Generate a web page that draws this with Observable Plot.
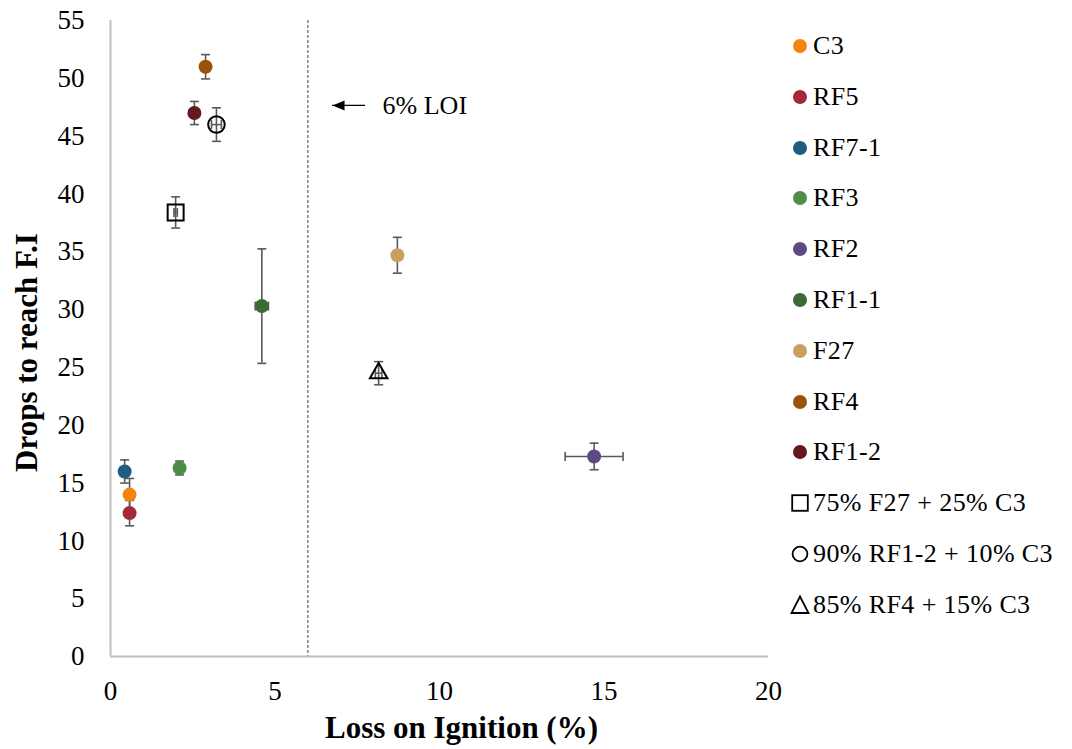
<!DOCTYPE html>
<html><head><meta charset="utf-8">
<script src="https://cdn.jsdelivr.net/npm/d3@7"></script>
<script src="https://cdn.jsdelivr.net/npm/@observablehq/plot@0.6"></script>
<style>
html,body{margin:0;padding:0;background:#fff;}
#wrap{position:relative;width:1072px;height:749px;overflow:hidden;background:#fff;}
#legend{position:absolute;left:789px;top:20.6px;font-family:"Liberation Serif","Times New Roman",serif;font-size:26px;letter-spacing:0.4px;color:#000;}
.item{height:50.8px;display:flex;align-items:center;white-space:nowrap;}
.item svg{width:22px;height:22px;margin-right:2px;flex:none;}
</style></head><body>
<div id="wrap"><div id="chart"></div><div id="legend"></div></div>
<script>
// ---- data ----
const names = ["C3","RF5","RF7-1","RF3","RF2","RF1-1","F27","RF4","RF1-2","75% F27 + 25% C3","90% RF1-2 + 10% C3","85% RF4 + 15% C3"];
const loi = [0.58, 0.58, 0.43, 2.1, 14.7, 4.6, 8.72, 2.89, 2.55, 1.98, 3.22, 8.15];
const drops = [14.0, 12.4, 16.0, 16.3, 17.3, 30.3, 34.7, 51.0, 47.0, 38.4, 46.0, 24.5];
const dropsErr = [1.4, 1.1, 1.0, 0.6, 1.15, 4.95, 1.55, 1.05, 1.0, 1.35, 1.45, 1.0];
const loiErr = [0, 0, 0, 0, 0.88, 0.2, 0, 0, 0, 0.05, 0.15, 0.1];
const filledColors = ["#F3840F","#A4283A","#1F5C82","#4E8D45","#5E4A82","#3A6B35","#C9A060","#9A5207","#64181F"];
const hollowSymbols = ["square","circle","triangle"];
const xTicks = [0,5,10,15,20];
const yTicks = [0,5,10,15,20,25,30,35,40,45,50,55];
const loiLimit = [6];
const annotation = [{tip: 6.75, tail: 7.75, y: 47.66, textX: 8.27, label: "6% LOI"}];
const xTitle = "Loss on Ignition (%)";
const yTitle = "Drops to reach F.I";

// ---- build ----
const rows = names.map((name, i) => ({name, loi: loi[i], drops: drops[i], dErr: dropsErr[i], lErr: loiErr[i]}));
const filled = rows.slice(0, 9);
const hollow = rows.slice(9);
const xErrRows = rows.filter(d => d.lErr > 0);
const FONT = '"Liberation Serif","Times New Roman",serif';
const barColor = "#595959";

const capH = {draw(ctx){ ctx.moveTo(-4.5, 0); ctx.lineTo(4.5, 0); }};
const capV = {draw(ctx){ ctx.moveTo(0, -4.5); ctx.lineTo(0, 4.5); }};
const headLeft = {draw(ctx){ ctx.moveTo(0, 0); ctx.lineTo(12, -5); ctx.lineTo(12, 5); ctx.closePath(); }};
const hollowR = {square: 9, circle: 8.3, triangle: 6.5};

const marks = [
  Plot.ruleX(loiLimit, {stroke: "#404040", strokeWidth: 1, strokeDasharray: "3,2"}),
  Plot.ruleX([0], {stroke: "#bfbfbf", strokeWidth: 2}),
  Plot.ruleY([0], {stroke: "#bfbfbf", strokeWidth: 2}),
  Plot.axisX({ticks: xTicks, tickSize: 0, tickPadding: 24, fontSize: 27, fontFamily: FONT, label: null}),
  Plot.axisY({ticks: yTicks, tickSize: 0, tickPadding: 26, fontSize: 27, fontFamily: FONT, label: null}),
  // vertical error bars
  Plot.ruleX(rows, {x: "loi", y1: d => d.drops - d.dErr, y2: d => d.drops + d.dErr, stroke: barColor, strokeWidth: 1.6}),
  Plot.dot(rows, {x: "loi", y: d => d.drops - d.dErr, symbol: capH, r: 4, stroke: barColor, strokeWidth: 1.6, fill: "none"}),
  Plot.dot(rows, {x: "loi", y: d => d.drops + d.dErr, symbol: capH, r: 4, stroke: barColor, strokeWidth: 1.6, fill: "none"}),
  // horizontal error bars
  Plot.ruleY(xErrRows, {y: "drops", x1: d => d.loi - d.lErr, x2: d => d.loi + d.lErr, stroke: barColor, strokeWidth: 1.6}),
  Plot.dot(xErrRows, {y: "drops", x: d => d.loi - d.lErr, symbol: capV, r: 4, stroke: barColor, strokeWidth: 1.6, fill: "none"}),
  Plot.dot(xErrRows, {y: "drops", x: d => d.loi + d.lErr, symbol: capV, r: 4, stroke: barColor, strokeWidth: 1.6, fill: "none"}),
  // filled markers
  Plot.dot(filled, {x: "loi", y: "drops", fill: "name", r: 7, stroke: "none"}),
  // hollow markers
  ...hollow.map((d, i) => Plot.dot([d], {x: "loi", y: "drops", symbol: hollowSymbols[i], r: hollowR[hollowSymbols[i]], stroke: "#000", strokeWidth: 2, fill: "none"})),
  // annotation
  Plot.ruleY(annotation, {y: "y", x1: "tip", x2: "tail", stroke: "#000", strokeWidth: 1.2}),
  Plot.dot(annotation, {x: "tip", y: "y", symbol: headLeft, r: 5, fill: "#000", stroke: "none"}),
  Plot.text(annotation, {x: "textX", y: "y", text: "label", textAnchor: "start", fontSize: 26, fontFamily: FONT, fill: "#000", letterSpacing: 0.5}),
  // titles
  Plot.text([xTitle], {frameAnchor: "bottom", dy: 72, dx: 22, textAnchor: "middle", fontSize: 31, fontWeight: "bold", fontFamily: FONT, fill: "#000", lineAnchor: "middle", letterSpacing: 0.6}),
  Plot.text([yTitle], {frameAnchor: "left", dx: -83, dy: 14, textAnchor: "middle", rotate: -90, fontSize: 31, fontWeight: "bold", fontFamily: FONT, fill: "#000", lineAnchor: "middle", letterSpacing: 0.6})
];

const chart = Plot.plot({
  width: 1072,
  height: 749,
  marginLeft: 110,
  marginRight: 304,
  marginTop: 20,
  marginBottom: 93,
  x: {domain: [0, 20]},
  y: {domain: [0, 55]},
  color: {domain: names.slice(0, 9), range: filledColors},
  style: {fontFamily: FONT, color: "#000", background: "#fff", overflow: "visible"},
  marks
});
d3.select(chart).selectAll("text").style("font-family", FONT);
document.getElementById("chart").appendChild(chart);

// ---- legend ----
const legend = document.getElementById("legend");
names.forEach((name, i) => {
  const item = document.createElement("div");
  item.className = "item";
  let sym;
  if (i < 9) {
    sym = `<circle cx="11" cy="11" r="7" fill="${filledColors[i]}"/>`;
  } else {
    const s = hollowSymbols[i - 9];
    if (s === "square") sym = `<rect x="3.2" y="3.2" width="15.6" height="15.6" fill="none" stroke="#000" stroke-width="1.8"/>`;
    else if (s === "circle") sym = `<circle cx="11" cy="11" r="7.4" fill="none" stroke="#000" stroke-width="1.8"/>`;
    else sym = `<path d="M11,2.5L19.5,19L2.5,19Z" fill="none" stroke="#000" stroke-width="1.8"/>`;
  }
  item.innerHTML = `<svg viewBox="0 0 22 22">${sym}</svg><span>${name}</span>`;
  legend.appendChild(item);
});
</script>
</body></html>
